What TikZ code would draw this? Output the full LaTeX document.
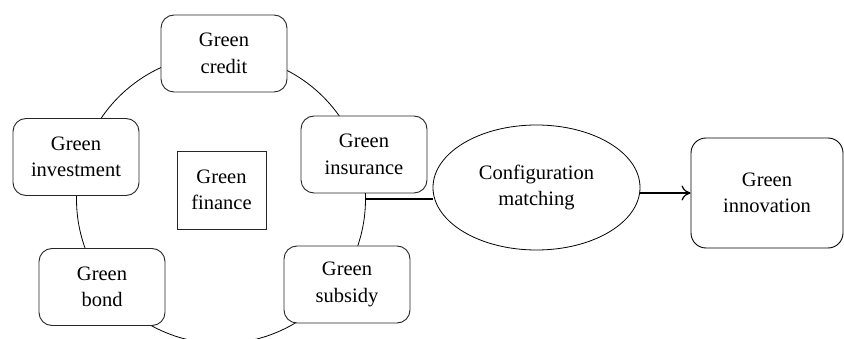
\documentclass[tikz,border=0pt]{standalone}
\usepackage{fontspec}
\setmainfont{Liberation Serif}
\usetikzlibrary{shapes.geometric,arrows.meta}
\begin{document}
\begin{tikzpicture}[x=1pt,y=-1pt,
  every node/.style={font=\fontsize{20.5}{26.5}\selectfont, align=center, inner sep=0pt},
  rbox/.style={draw=black!85, line width=0.9pt, fill=white, rounded corners=13pt, minimum width=126pt, minimum height=77pt},
  sbox/.style={draw=black!85, line width=0.9pt, fill=white, minimum width=89pt, minimum height=78pt},
  conn/.style={line width=1.3pt, black}]
\useasboundingbox (0,0) rectangle (844,339);
\clip (0,0) rectangle (844,339);
\node[draw=black, line width=0.8pt, circle, minimum size=289pt] (circ) at (221,199) {};
\node[rbox] (credit) at (224,53.5) {Green\\credit};
\node[rbox] (invest) at (76,157) {Green\\investment};
\node[sbox] (finance) at (221.5,190) {Green\\finance};
\node[rbox] (insur) at (364,154.5) {Green\\insurance};
\node[rbox] (bond) at (102,287) {Green\\bond};
\node[rbox] (subsidy) at (347,284.5) {Green\\subsidy};
\node[draw=black, line width=0.8pt, ellipse, fill=white, minimum width=207pt, minimum height=125pt] (match) at (536.5,187.5) {Configuration\\matching};
\node[draw=black, line width=0.9pt, fill=white, rounded corners=15pt, minimum width=152pt, minimum height=110pt] (innov) at (767,193) {Green\\innovation};
\draw[conn] (circ.east) -- (match.west |- circ.east);
\draw[conn, -{To[length=9pt,width=15pt,line width=1.2pt]}] (innov.west -| match.east) -- (innov.west);
\end{tikzpicture}
\end{document}
